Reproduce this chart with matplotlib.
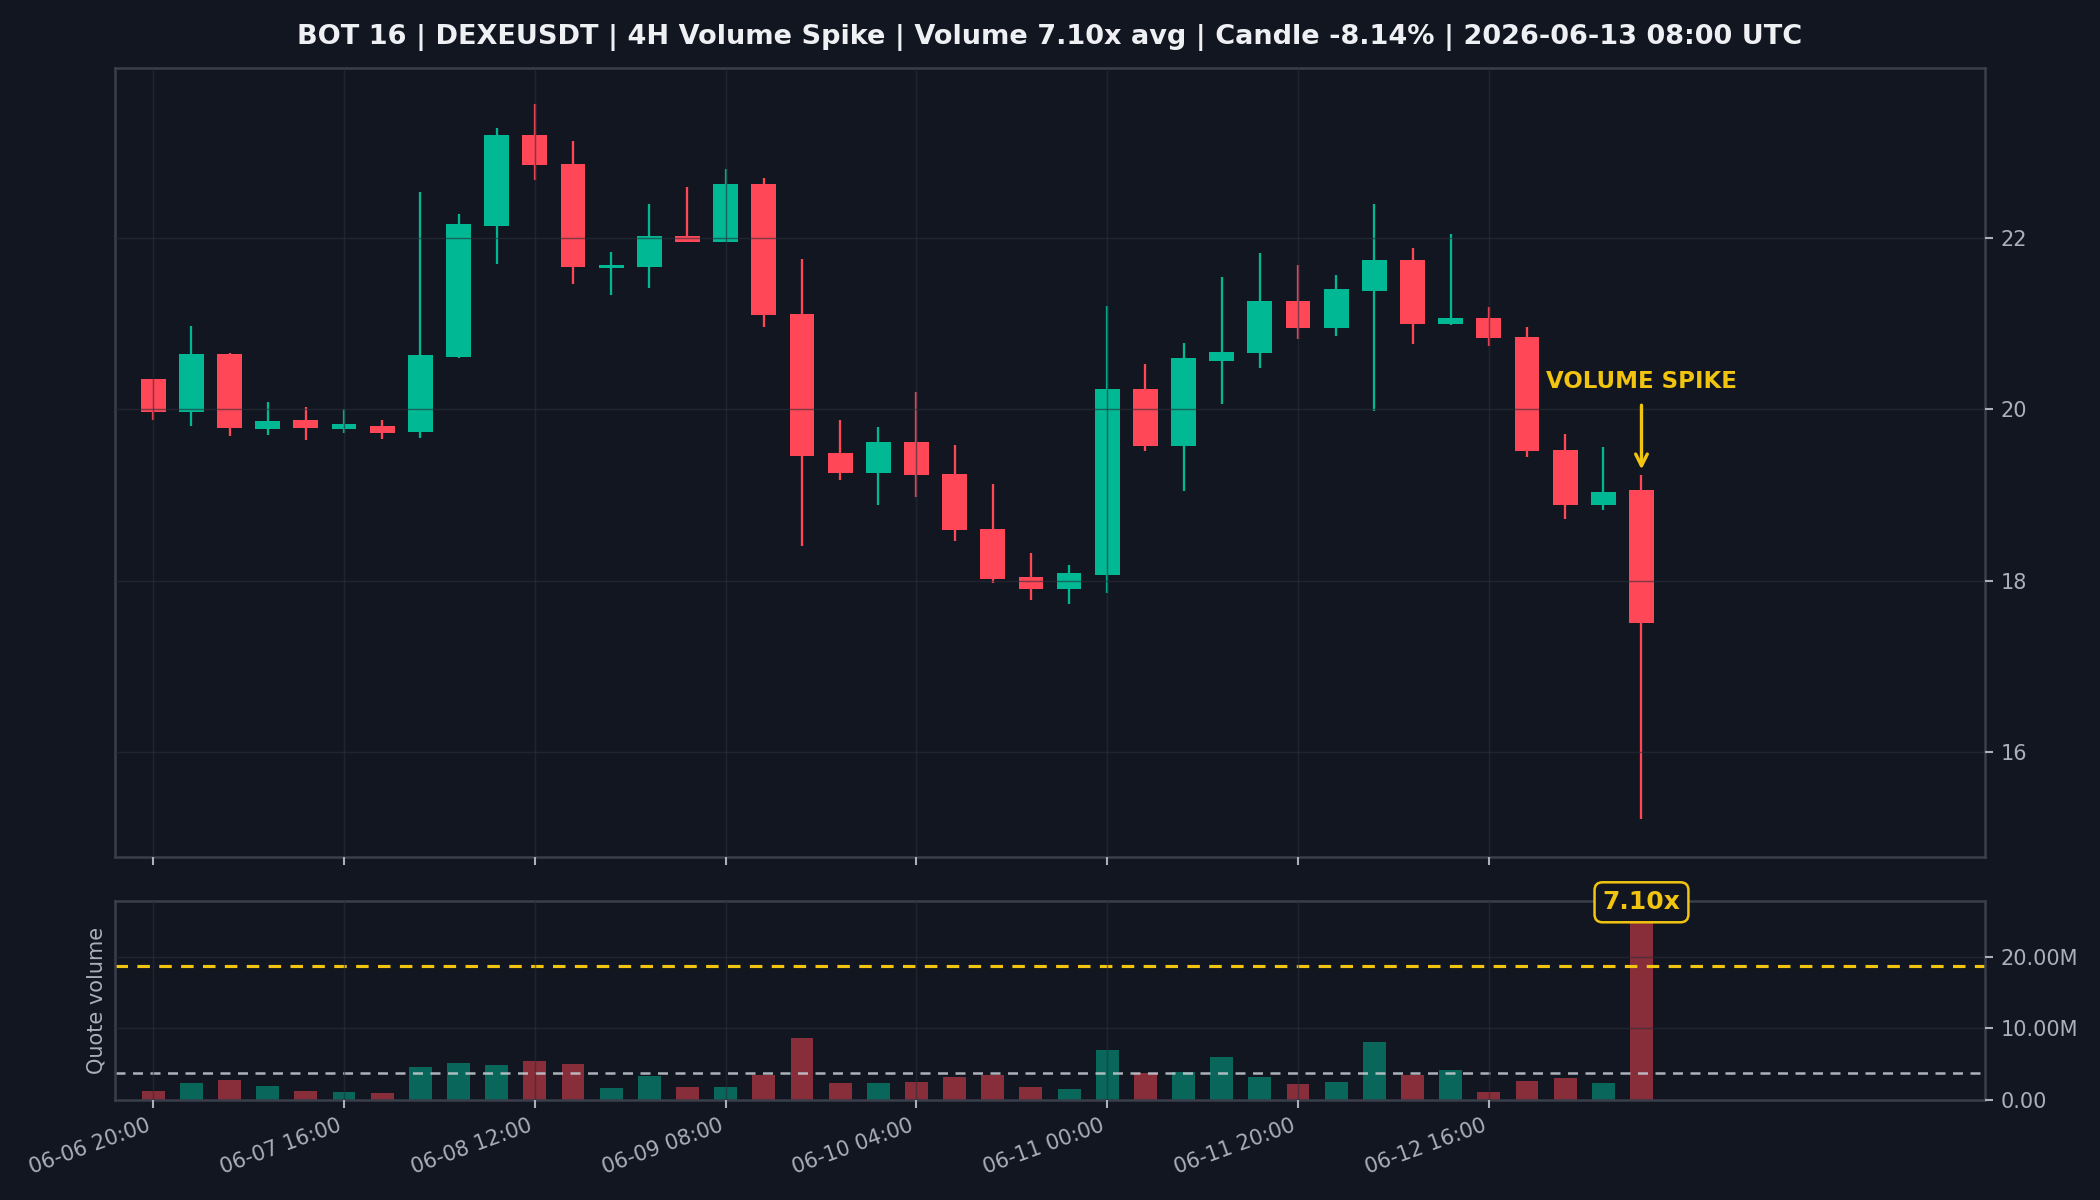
import numpy as np
import matplotlib
matplotlib.use("Agg")
import matplotlib.pyplot as plt
from matplotlib.ticker import FuncFormatter

# 4H candles, 06-06 20:00 -> 06-13 08:00 UTC
opens = [20.35, 19.97, 20.65, 19.77, 19.88, 19.77, 19.81, 19.74, 20.61, 22.14,
         23.20, 22.87, 21.65, 21.66, 22.03, 21.96, 22.63, 21.11, 19.49, 19.26,
         19.62, 19.25, 18.60, 18.04, 17.90, 18.07, 20.24, 19.57, 20.57, 20.66,
         21.27, 20.95, 21.38, 21.75, 21.00, 21.07, 20.84, 19.53, 18.88, 19.06]
highs = [20.36, 20.97, 20.66, 20.09, 20.03, 20.01, 19.88, 22.54, 22.28, 23.29,
         23.57, 23.13, 21.84, 22.40, 22.60, 22.81, 22.70, 21.76, 19.88, 19.80,
         20.20, 19.59, 19.13, 18.32, 18.19, 21.21, 20.53, 20.78, 21.55, 21.83,
         21.68, 21.57, 22.40, 21.89, 22.05, 21.20, 20.96, 19.71, 19.56, 19.24]
lows = [19.88, 19.81, 19.69, 19.70, 19.64, 19.72, 19.65, 19.67, 20.60, 21.70,
        22.68, 21.46, 21.33, 21.42, 21.95, 21.95, 20.96, 18.41, 19.18, 18.89,
        18.98, 18.47, 17.98, 17.78, 17.73, 17.86, 19.52, 19.05, 20.06, 20.48,
        20.82, 20.86, 19.98, 20.76, 20.99, 20.74, 19.44, 18.72, 18.83, 15.22]
closes = [19.97, 20.65, 19.78, 19.87, 19.78, 19.83, 19.72, 20.63, 22.16, 23.20,
          22.85, 21.66, 21.67, 22.03, 21.96, 22.63, 21.10, 19.46, 19.26, 19.62,
          19.23, 18.59, 18.02, 17.90, 18.09, 20.24, 19.57, 20.60, 20.67, 21.27,
          20.95, 21.40, 21.75, 21.00, 21.07, 20.83, 19.52, 18.88, 19.04, 17.51]
# quote volume, millions
volumes = [1.22, 2.30, 2.72, 1.87, 1.22, 1.03, 0.89, 4.54, 5.11, 4.82,
           5.39, 4.96, 1.59, 3.28, 1.73, 1.73, 3.42, 8.62, 2.30, 2.30,
           2.44, 3.14, 3.42, 1.73, 1.45, 6.95, 3.66, 3.80, 5.96, 3.14,
           2.16, 2.44, 8.07, 3.42, 4.13, 1.03, 2.58, 3.00, 2.30, 26.48]
avg_volume = 3.73
spike_threshold = 18.65
spike_ratio = 7.10

tick_pos = [0, 5, 10, 15, 20, 25, 30, 35]
tick_labels = ["06-06 20:00", "06-07 16:00", "06-08 12:00", "06-09 08:00",
               "06-10 04:00", "06-11 00:00", "06-11 20:00", "06-12 16:00"]

title = ("BOT 16 | DEXEUSDT | 4H Volume Spike | Volume 7.10x avg | "
         "Candle -8.14% | 2026-06-13 08:00 UTC")

BG = '#121620'
GREEN = '#00b894'
RED = '#ff4757'
GOLD = '#f1c40f'
TXT = '#a9b0bc'
SPINE = '#3a3f4b'
GRID = '#2a2f3a'

fig = plt.figure(figsize=(14, 8), dpi=150, facecolor=BG)
ax = fig.add_axes([0.0548, 0.286, 0.8904, 0.657])
axv = fig.add_axes([0.0548, 0.0837, 0.8904, 0.1653], sharex=ax)

x = np.arange(len(opens))
o = np.array(opens)
c = np.array(closes)
up = c >= o
colors = np.where(up, GREEN, RED)

for a in (ax, axv):
    a.set_facecolor(BG)
    for s in a.spines.values():
        s.set_color(SPINE)
        s.set_linewidth(1.2)
    a.grid(True, color=GRID, linewidth=0.7, alpha=0.6)
    a.set_axisbelow(False)
    a.yaxis.tick_right()
    a.tick_params(colors=TXT, labelsize=10, length=4, width=1)

# candles
ax.vlines(x, lows, highs, colors=colors, linewidth=1.1, zorder=1)
body_h = np.abs(c - o)
body_h = np.where(body_h < 0.03, 0.03, body_h)
ax.bar(x, body_h, bottom=np.minimum(o, c), width=0.65, color=colors,
       linewidth=0, zorder=1)

ax.set_xlim(-1, 48)
ax.set_ylim(14.78, 23.98)
ax.set_yticks([16, 18, 20, 22])
ax.tick_params(axis='x', labelbottom=False)

ax.annotate("VOLUME SPIKE", xy=(39, highs[-1] + 0.06), xytext=(39, 20.33),
            ha='center', va='center', color=GOLD, fontsize=11,
            fontweight='bold',
            arrowprops=dict(arrowstyle='->', color=GOLD, lw=1.6,
                            shrinkA=4, shrinkB=0, mutation_scale=14))

# volume
axv.bar(x, volumes, width=0.6, color=colors, alpha=0.5, linewidth=0,
        zorder=1)
axv.axhline(avg_volume, color='#c8ccd4', linestyle='--', linewidth=1.2,
            alpha=0.85, dashes=(4, 3))
axv.axhline(spike_threshold, color=GOLD, linestyle='--', linewidth=1.5,
            dashes=(4, 3))
axv.set_ylim(0, 27.8)
axv.set_yticks([0, 10, 20])
axv.yaxis.set_major_formatter(FuncFormatter(lambda v, p: f"{v:.2f}M" if v else "0.00"))
axv.set_ylabel("Quote volume", color=TXT, fontsize=10)
axv.yaxis.set_label_position('left')
axv.annotate(f"{spike_ratio:.2f}x", xy=(39, volumes[-1]), xytext=(0, 4),
             textcoords='offset points', ha='center', va='center',
             color=GOLD, fontsize=12, fontweight='bold', zorder=5,
             bbox=dict(boxstyle='round,pad=0.32', fc=BG, ec=GOLD, lw=1.2))

axv.set_xticks(tick_pos)
axv.set_xticklabels(tick_labels, rotation=20, ha='right')

fig.suptitle(title, color='#eef0f4', fontsize=13, fontweight='bold',
             y=0.98)

fig.savefig("out.png", dpi=150, facecolor=BG)
